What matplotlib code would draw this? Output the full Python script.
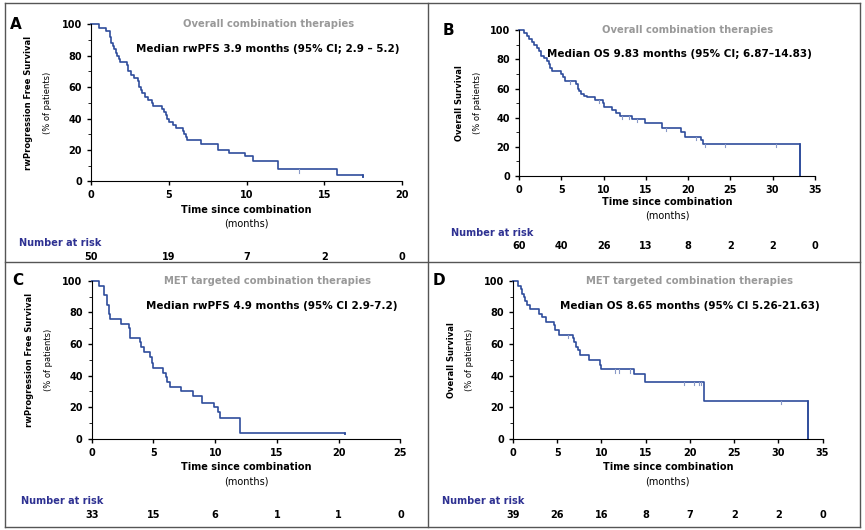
import matplotlib.pyplot as plt
import numpy as np

# change points (months, % surviving)
a_t = [0, 0.5, 1.0, 1.2, 1.3, 1.4, 1.5, 1.6, 1.7, 1.8, 1.9, 2.3, 2.4, 2.6, 2.8, 3.0, 3.1, 3.2, 3.3, 3.5, 3.7, 3.9, 4.0,
       4.6, 4.7, 4.8, 4.9, 5.0, 5.3, 5.5, 5.9, 6.0, 6.1, 6.2, 7.1, 8.2, 8.9, 9.9, 10.4, 12.0, 15.8, 17.5]
a_s = [100, 98, 96, 92, 88, 86, 84, 82, 80, 78, 76, 74, 70, 68, 66, 64, 60, 58, 56, 54, 52, 50, 48,
       46, 44, 42, 40, 38, 36, 34, 32, 30, 28, 26, 24, 20, 18, 16, 13, 7.5, 4, 3]
a_cens = [13.4]

b_t = [0, 0.6, 0.9, 1.2, 1.5, 1.8, 2.1, 2.4, 2.6, 3.0, 3.3, 3.5, 3.7, 3.9, 5.0, 5.2, 5.4, 6.7, 7.0, 7.1, 7.3, 7.7, 8.0,
       9.0, 9.9, 10.0, 11.0, 11.5, 12.0, 13.4, 14.9, 16.9, 19.2, 19.6, 21.5, 21.8, 33.3]
b_s = [100, 98, 96, 94, 92, 90, 88, 86, 82, 81, 79, 77, 74, 72, 70, 68, 65, 63, 60, 58, 56, 55, 54,
       52, 50, 47, 45, 43, 41, 39, 36, 33, 30, 27, 25, 22, 0]
b_cens = [6.0, 9.5, 12.2, 13.0, 14.0, 17.4, 21.0, 22.0, 24.4, 30.4]

c_t = [0, 0.6, 1.0, 1.2, 1.4, 1.5, 2.4, 3.0, 3.1, 3.9, 4.0, 4.2, 4.7, 4.9, 5.0, 5.8, 6.0, 6.1, 6.3, 7.2, 8.2, 8.9,
       9.9, 10.2, 10.4, 12.0, 20.5]
c_s = [100, 97, 91, 85, 79, 76, 73, 70, 64, 61, 58, 55, 52, 48, 45, 42, 39, 36, 33, 30, 27, 23,
       20, 17, 13, 4, 3]
c_cens = []

d_t = [0, 0.6, 0.9, 1.0, 1.2, 1.4, 1.6, 1.9, 3.0, 3.3, 3.7, 4.6, 4.8, 5.2, 6.8, 6.9, 7.1, 7.3, 7.6, 8.6, 9.8, 10.0,
       13.7, 14.9, 21.6, 33.3]
d_s = [100, 97, 95, 92, 90, 87, 85, 82, 79, 77, 74, 72, 69, 66, 64, 61, 58, 56, 53, 50, 47, 44,
       41, 36, 24, 0]
d_cens = [6.2, 11.5, 12.0, 13.2, 19.3, 20.5, 21.0, 21.2, 30.3]

a_risk = [50, 19, 7, 2, 0]
b_risk = [60, 40, 26, 13, 8, 2, 2, 0]
c_risk = [33, 15, 6, 1, 1, 0]
d_risk = [39, 26, 16, 8, 7, 2, 2, 0]

line_c = '#2f4d9c'
navy = '#2e3192'

fig = plt.figure(figsize=(8.65, 5.30), dpi=100)

# panel frames
for xs, ys in [([0.006, 0.994], [0.994, 0.994]), ([0.006, 0.994], [0.006, 0.006]),
               ([0.006, 0.006], [0.006, 0.994]), ([0.994, 0.994], [0.006, 0.994]),
               ([0.495, 0.495], [0.006, 0.994]), ([0.006, 0.994], [0.505, 0.505])]:
    fig.add_artist(plt.Line2D(xs, ys, color='#555555', lw=1.0))

panels = [
    ('A', [0.105, 0.658, 0.360, 0.296], a_t, a_s, a_cens, a_risk, 20, 'rwProgression Free Survival',
     'Overall combination therapies', 'Median rwPFS 3.9 months (95% CI; 2.9 \u2013 5.2)'),
    ('B', [0.600, 0.668, 0.342, 0.275], b_t, b_s, b_cens, b_risk, 35, 'Overall Survival',
     'Overall combination therapies', 'Median OS 9.83 months (95% CI; 6.87\u201314.83)'),
    ('C', [0.106, 0.172, 0.357, 0.298], c_t, c_s, c_cens, c_risk, 25, 'rwProgression Free Survival',
     'MET targeted combination therapies', 'Median rwPFS 4.9 months (95% CI 2.9-7.2)'),
    ('D', [0.593, 0.172, 0.358, 0.298], d_t, d_s, d_cens, d_risk, 35, 'Overall Survival',
     'MET targeted combination therapies', 'Median OS 8.65 months (95% CI 5.26-21.63)'),
]

for letter, rect, t, s, cens, risk, xmax, ylab, title, median in panels:
    ax = fig.add_axes(rect)
    ax.step(t, s, where='post', color=line_c, lw=1.2, clip_on=False)
    ax.plot([t[-1], t[-1]], [s[-2], s[-1]], color=line_c, lw=1.2)
    t_arr = np.array(t)
    s_arr = np.array(s)
    for c in cens:
        lvl = s_arr[np.searchsorted(t_arr, c, side='right') - 1]
        ax.plot([c, c], [lvl - 2, lvl], color='#8a9ac8', lw=0.8)
    ax.set_xlim(0, xmax)
    ax.set_ylim(0, 100)
    ax.set_xticks(np.arange(0, xmax + 1, 5))
    ax.set_yticks(np.arange(0, 101, 20))
    ax.set_yticks(np.arange(0, 101, 10), minor=True)
    ax.spines['top'].set_visible(False)
    ax.spines['right'].set_visible(False)
    ax.tick_params(labelsize=7, length=3, width=1)
    ax.tick_params(which='minor', length=2)
    for lbl in ax.get_xticklabels() + ax.get_yticklabels():
        lbl.set_fontweight('bold')
    ax.text(0.5, -0.20, 'Time since combination', transform=ax.transAxes, ha='center', fontsize=7,
            fontweight='bold')
    ax.text(0.5, -0.29, '(months)', transform=ax.transAxes, ha='center', fontsize=7)
    ax.text(-0.20, 0.5, ylab, transform=ax.transAxes, rotation=90, va='center', ha='center', fontsize=6,
            fontweight='bold')
    ax.text(-0.14, 0.5, '(% of patients)', transform=ax.transAxes, rotation=90, va='center', ha='center',
            fontsize=6)
    ax.text(0.57, 1.0, title, transform=ax.transAxes, ha='center', va='center', fontsize=7.2,
            fontweight='bold', color='#999999')
    ax.text(0.99, 0.84, median, transform=ax.transAxes, ha='right', va='center', fontsize=7.5,
            fontweight='bold')
    ax.text(-0.24, 1.0, letter, transform=ax.transAxes, ha='center', va='center', fontsize=11,
            fontweight='bold')
    ax.text(-0.23, -0.41, 'Number at risk', transform=ax.transAxes, ha='left', fontsize=7, fontweight='bold',
            color=navy)
    for i, n in enumerate(risk):
        ax.text(i * 5, -0.50, str(n), transform=ax.get_xaxis_transform(), ha='center', fontsize=7,
                fontweight='bold')

fig.savefig('out.png', dpi=100)
